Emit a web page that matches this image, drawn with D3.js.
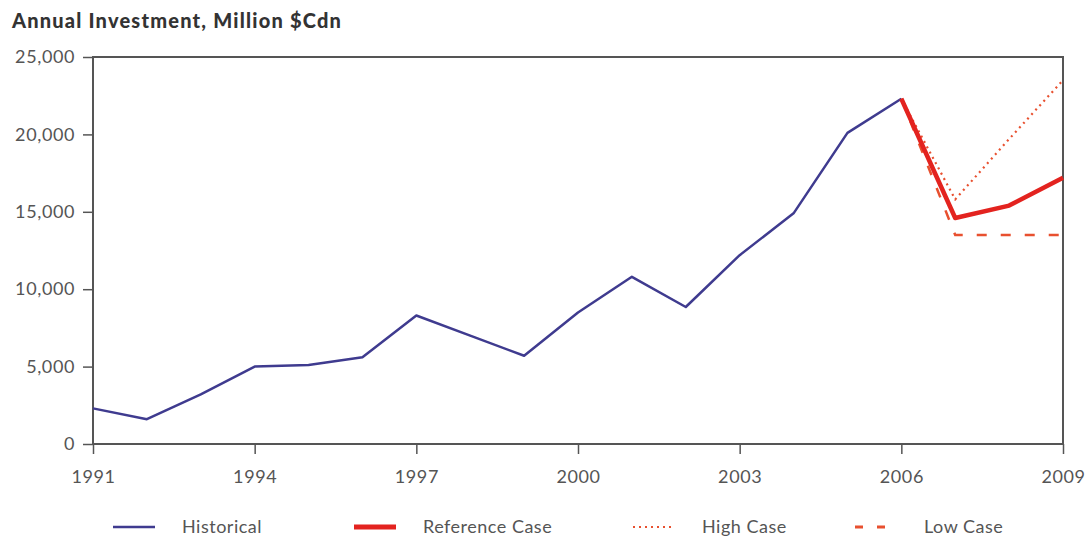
<!DOCTYPE html>
<html>
<head>
<meta charset="utf-8">
<script src="https://cdn.jsdelivr.net/npm/d3@7"></script>
<style>
  body { margin: 0; background: #fff; }
  svg { font-family: "Lato", "DejaVu Sans", sans-serif; }
</style>
</head>
<body>
<svg id="chart" width="1091" height="537"></svg>
<script>
const histYears = [1991, 1992, 1993, 1994, 1995, 1996, 1997, 1998, 1999, 2000, 2001, 2002, 2003, 2004, 2005, 2006];
const histValues = [2300, 1600, 3200, 5000, 5100, 5600, 8300, 7000, 5700, 8500, 10800, 8850, 12200, 14900, 20100, 22300];
const projYears = [2006, 2007, 2008, 2009];
const refValues = [22300, 14600, 15400, 17200];
const highValues = [22300, 15800, 19700, 23500];
const lowValues = [22300, 13500, 13500, 13500];
const xTicks = [1991, 1994, 1997, 2000, 2003, 2006, 2009];
const yTicks = [0, 5000, 10000, 15000, 20000, 25000];

const svg = d3.select("#chart");
const margin = { left: 93, right: 1063, top: 57, bottom: 444 };

const x = d3.scaleLinear().domain([1991, 2009]).range([margin.left, margin.right]);
const y = d3.scaleLinear().domain([0, 25000]).range([margin.bottom, margin.top]);
const axisColor = "#555";
const fontFamily = '"Lato", "DejaVu Sans", sans-serif';

// title
svg.append("text")
  .attr("x", 12).attr("y", 28)
  .attr("font-size", 20).attr("font-weight", 900)
  .attr("letter-spacing", 1.2)
  .attr("fill", "#333")
  .text("Annual Investment, Million $Cdn");

// frame
svg.append("rect")
  .attr("x", x(1991)).attr("y", y(25000))
  .attr("width", x(2009) - x(1991)).attr("height", y(0) - y(25000))
  .attr("fill", "none").attr("stroke", axisColor).attr("stroke-width", 2);

const yAxis = svg.append("g")
  .attr("transform", `translate(${x(1991)},0)`)
  .call(d3.axisLeft(y).tickValues(yTicks).tickSize(10).tickPadding(8).tickFormat(d3.format(",")));

const xAxis = svg.append("g")
  .attr("transform", `translate(0,${y(0)})`)
  .call(d3.axisBottom(x).tickValues(xTicks).tickSize(10).tickPadding(16).tickFormat(d3.format("d")));

[yAxis, xAxis].forEach(g => {
  g.attr("font-family", fontFamily);
  g.select(".domain").remove();
  g.selectAll(".tick line").attr("stroke", axisColor).attr("stroke-width", 1.5);
  g.selectAll(".tick text").attr("fill", "#555").attr("font-size", 18).attr("letter-spacing", 0.6);
});

const line = d3.line().x(d => x(d[0])).y(d => y(d[1]));
const zip = (a, b) => a.map((v, i) => [v, b[i]]);

svg.append("path")
  .datum(zip(projYears, highValues))
  .attr("d", line).attr("fill", "none")
  .attr("stroke", "#e8502f").attr("stroke-width", 2.2)
  .attr("stroke-dasharray", "2,4");

svg.append("path")
  .datum(zip(projYears, lowValues))
  .attr("d", line).attr("fill", "none")
  .attr("stroke", "#e8502f").attr("stroke-width", 2.5)
  .attr("stroke-dasharray", "10,14");

svg.append("path")
  .datum(zip(histYears, histValues))
  .attr("d", line).attr("fill", "none")
  .attr("stroke", "#3f3b8f").attr("stroke-width", 2.5)
  .attr("stroke-linejoin", "round");

svg.append("path")
  .datum(zip(projYears, refValues))
  .attr("d", line).attr("fill", "none")
  .attr("stroke", "#e3231f").attr("stroke-width", 4.5)
  .attr("stroke-linejoin", "round");

// legend
const legendItems = [
  { label: "Historical", color: "#3f3b8f", width: 2.5, dash: null, x: 113 },
  { label: "Reference Case", color: "#e3231f", width: 5, dash: null, x: 354 },
  { label: "High Case", color: "#e8502f", width: 2.2, dash: "2,4", x: 633 },
  { label: "Low Case", color: "#e8502f", width: 3, dash: "8,14", x: 855 }
];
const ly = 527;
const lg = svg.append("g").selectAll("g").data(legendItems).join("g")
  .attr("transform", d => `translate(${d.x},${ly})`);
lg.append("line")
  .attr("x1", 0).attr("x2", 42).attr("y1", 0).attr("y2", 0)
  .attr("stroke", d => d.color).attr("stroke-width", d => d.width)
  .attr("stroke-dasharray", d => d.dash);
lg.append("text")
  .attr("x", 69).attr("y", 6)
  .attr("font-size", 18).attr("letter-spacing", 0.5).attr("fill", "#555")
  .text(d => d.label);
</script>
</body>
</html>
